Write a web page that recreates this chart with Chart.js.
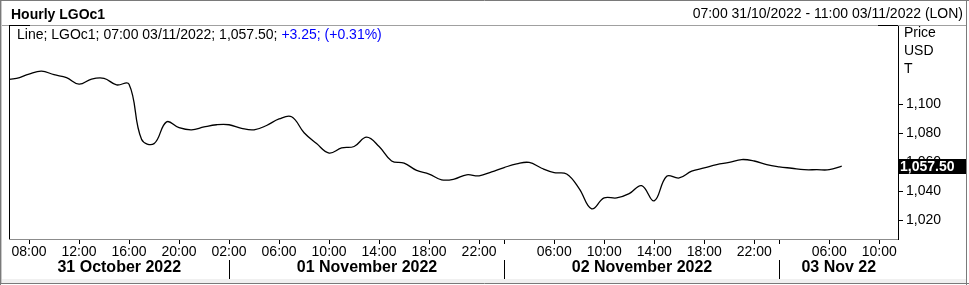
<!DOCTYPE html>
<html>
<head>
<meta charset="utf-8">
<script src="https://cdn.jsdelivr.net/npm/chart.js@4.4.0/dist/chart.umd.min.js"></script>
<style>
  html, body { margin: 0; padding: 0; background: #fff; }
  #wrap { width: 969px; height: 285px; }
</style>
</head>
<body>
<div id="wrap"><canvas id="c" width="969" height="285"></canvas></div>
<script>
// hourly closes, 06:00 31/10 .. 07:00 03/11 (only trading hours 01:00-22:00)
const prices = [
  1117, 1118, 1121, 1123, 1120.5, 1118.5, 1114, 1117.5, 1118, 1113.5, 1114,
  1076, 1073, 1088, 1084, 1082.5, 1084.5, 1086, 1086, 1083.5, 1082.5, 1085.5,
  1090, 1091.5, 1080.5, 1073, 1066.5, 1070, 1071, 1077.5, 1071, 1061, 1059.5,
  1054.5, 1052, 1048, 1048.5, 1051.5, 1050.8, 1053.5, 1056.5, 1059, 1060, 1056,
  1053, 1052, 1042, 1028, 1035.5, 1035.5, 1038.5, 1044, 1033.5, 1050.5, 1049.3,
  1054, 1056.2, 1058.5, 1060, 1062, 1061, 1058.5, 1057, 1056, 1055, 1055, 1055,
  1057.5
];

// x axis: hour index from 07:00 31/10
const tickHours  = [1, 5, 9, 13, 17, 21, 25, 29, 33, 37, 39, 43, 47, 51, 55, 59, 61, 65, 69];
const tickLabels = ['08:00', '12:00', '16:00', '20:00', '02:00', '06:00', '10:00', '14:00', '18:00',
                    '22:00', '', '06:00', '10:00', '14:00', '18:00', '22:00', '', '06:00', '10:00'];
const dayBreaks = [17, 39, 61];
const dayLabels = ['31 October 2022', '01 November 2022', '02 November 2022', '03 Nov 22'];
const yTicks = [1020, 1040, 1060, 1080, 1100];

const lastPrice = prices[prices.length - 1];
const FONT = 'Arial, "Liberation Sans", sans-serif';

const frame = {
  id: 'frame',
  beforeDraw(chart) {
    const { ctx, width, height } = chart;
    ctx.save();
    ctx.fillStyle = '#fff';
    ctx.fillRect(0, 0, width, height);
    ctx.fillStyle = '#f0f0f0';
    ctx.fillRect(2, 279, width - 5, 4);
    ctx.restore();
  },
  afterDraw(chart) {
    const { ctx, width, height, chartArea: a, scales: { x, y } } = chart;
    ctx.save();

    // outer panel
    ctx.lineWidth = 1;
    ctx.strokeStyle = '#7a7a7a';
    ctx.beginPath();
    ctx.moveTo(0, 0.5); ctx.lineTo(width, 0.5);
    ctx.moveTo(0.5, 0); ctx.lineTo(0.5, height);
    ctx.moveTo(width - 2.5, 0); ctx.lineTo(width - 2.5, height);
    ctx.moveTo(0, 283.5); ctx.lineTo(width, 283.5);
    ctx.stroke();
    ctx.strokeStyle = '#c8c8c8';
    ctx.beginPath();
    ctx.moveTo(1.5, 1); ctx.lineTo(1.5, 283);
    ctx.stroke();

    // title bar underline + plot frame
    ctx.strokeStyle = '#a0a0a0';
    ctx.beginPath();
    ctx.moveTo(2, a.top + 0.5); ctx.lineTo(width - 3, a.top + 0.5);
    ctx.stroke();
    ctx.strokeStyle = '#000';
    ctx.beginPath();
    ctx.moveTo(a.left, a.top + 0.5); ctx.lineTo(a.left + 21, a.top + 0.5);
    ctx.moveTo(a.right - 20, a.top + 0.5); ctx.lineTo(a.right, a.top + 0.5);
    ctx.moveTo(a.left + 0.5, a.top); ctx.lineTo(a.left + 0.5, a.bottom);
    ctx.stroke();

    // day separators and labels
    const edges = [a.left, ...dayBreaks.map(v => Math.round(x.getPixelForValue(v)) + 0.5), a.right];
    ctx.beginPath();
    for (let i = 1; i < edges.length - 1; i++) {
      ctx.moveTo(edges[i], 260); ctx.lineTo(edges[i], 279);
    }
    ctx.stroke();
    ctx.fillStyle = '#000';
    ctx.font = 'bold 16px ' + FONT;
    ctx.textAlign = 'center';
    ctx.textBaseline = 'middle';
    dayLabels.forEach((d, i) => ctx.fillText(d, (edges[i] + edges[i + 1]) / 2, 268));

    // header
    ctx.font = 'bold 14px ' + FONT;
    ctx.textAlign = 'left';
    ctx.fillText('Hourly LGOc1', 11, 15);
    ctx.font = '14px ' + FONT;
    ctx.textAlign = 'right';
    ctx.fillText('07:00 31/10/2022 - 11:00 03/11/2022 (LON)', 963, 14);

    // legend line
    ctx.textAlign = 'left';
    const part1 = 'Line; LGOc1; 07:00 03/11/2022; 1,057.50; ';
    ctx.fillText(part1, 17, 35);
    ctx.fillStyle = '#0000ff';
    ctx.fillText('+3.25; (+0.31%)', 17 + ctx.measureText(part1).width, 35);

    // axis caption
    ctx.fillStyle = '#000';
    ctx.fillText('Price', 904, 33);
    ctx.fillText('USD', 904, 51);
    ctx.fillText('T', 904, 69);

    // last price box
    const py = y.getPixelForValue(lastPrice);
    ctx.fillStyle = '#000';
    ctx.fillRect(a.right + 1, Math.round(py) - 7, 67, 15);
    ctx.fillStyle = '#fff';
    ctx.font = 'bold 14px ' + FONT;
    ctx.fillText(lastPrice.toLocaleString('en-US', { minimumFractionDigits: 2 }), a.right + 2, Math.round(py) + 1);

    ctx.restore();
  }
};

new Chart(document.getElementById('c'), {
  type: 'line',
  data: {
    datasets: [{
      data: prices.map((p, i) => ({ x: i - 1, y: p })),
      borderColor: '#000',
      borderWidth: 1.3,
      pointRadius: 0,
      tension: 0.4,
      fill: false,
    }],
  },
  options: {
    responsive: false,
    animation: false,
    devicePixelRatio: 1,
    layout: { padding: { left: 9, top: 25, right: 0, bottom: 0 } },
    plugins: { legend: { display: false }, tooltip: { enabled: false } },
    scales: {
      x: {
        type: 'linear',
        position: 'bottom',
        min: -0.6,
        max: 70.5,
        afterBuildTicks: s => { s.ticks = tickHours.map(v => ({ value: v })); },
        afterFit: s => { s.height = 46; },
        ticks: {
          autoSkip: false,
          maxRotation: 0,
          padding: 0,
          color: '#000',
          font: { family: FONT, size: 14 },
          callback: (v, i) => tickLabels[i],
        },
        grid: { drawOnChartArea: false, drawTicks: true, tickLength: 5, tickColor: '#000' },
        border: { color: '#8c8c8c' },
      },
      y: {
        type: 'linear',
        position: 'right',
        min: 1007.2,
        max: 1154.8,
        afterBuildTicks: s => { s.ticks = yTicks.map(v => ({ value: v })); },
        afterFit: s => { s.width = 71; },
        ticks: {
          padding: 3,
          color: '#000',
          font: { family: FONT, size: 14 },
          callback: v => v.toLocaleString('en-US'),
        },
        grid: { drawOnChartArea: false, drawTicks: true, tickLength: 5, tickColor: '#000' },
        border: { color: '#000' },
      },
    },
  },
  plugins: [frame],
});
</script>
</body>
</html>
